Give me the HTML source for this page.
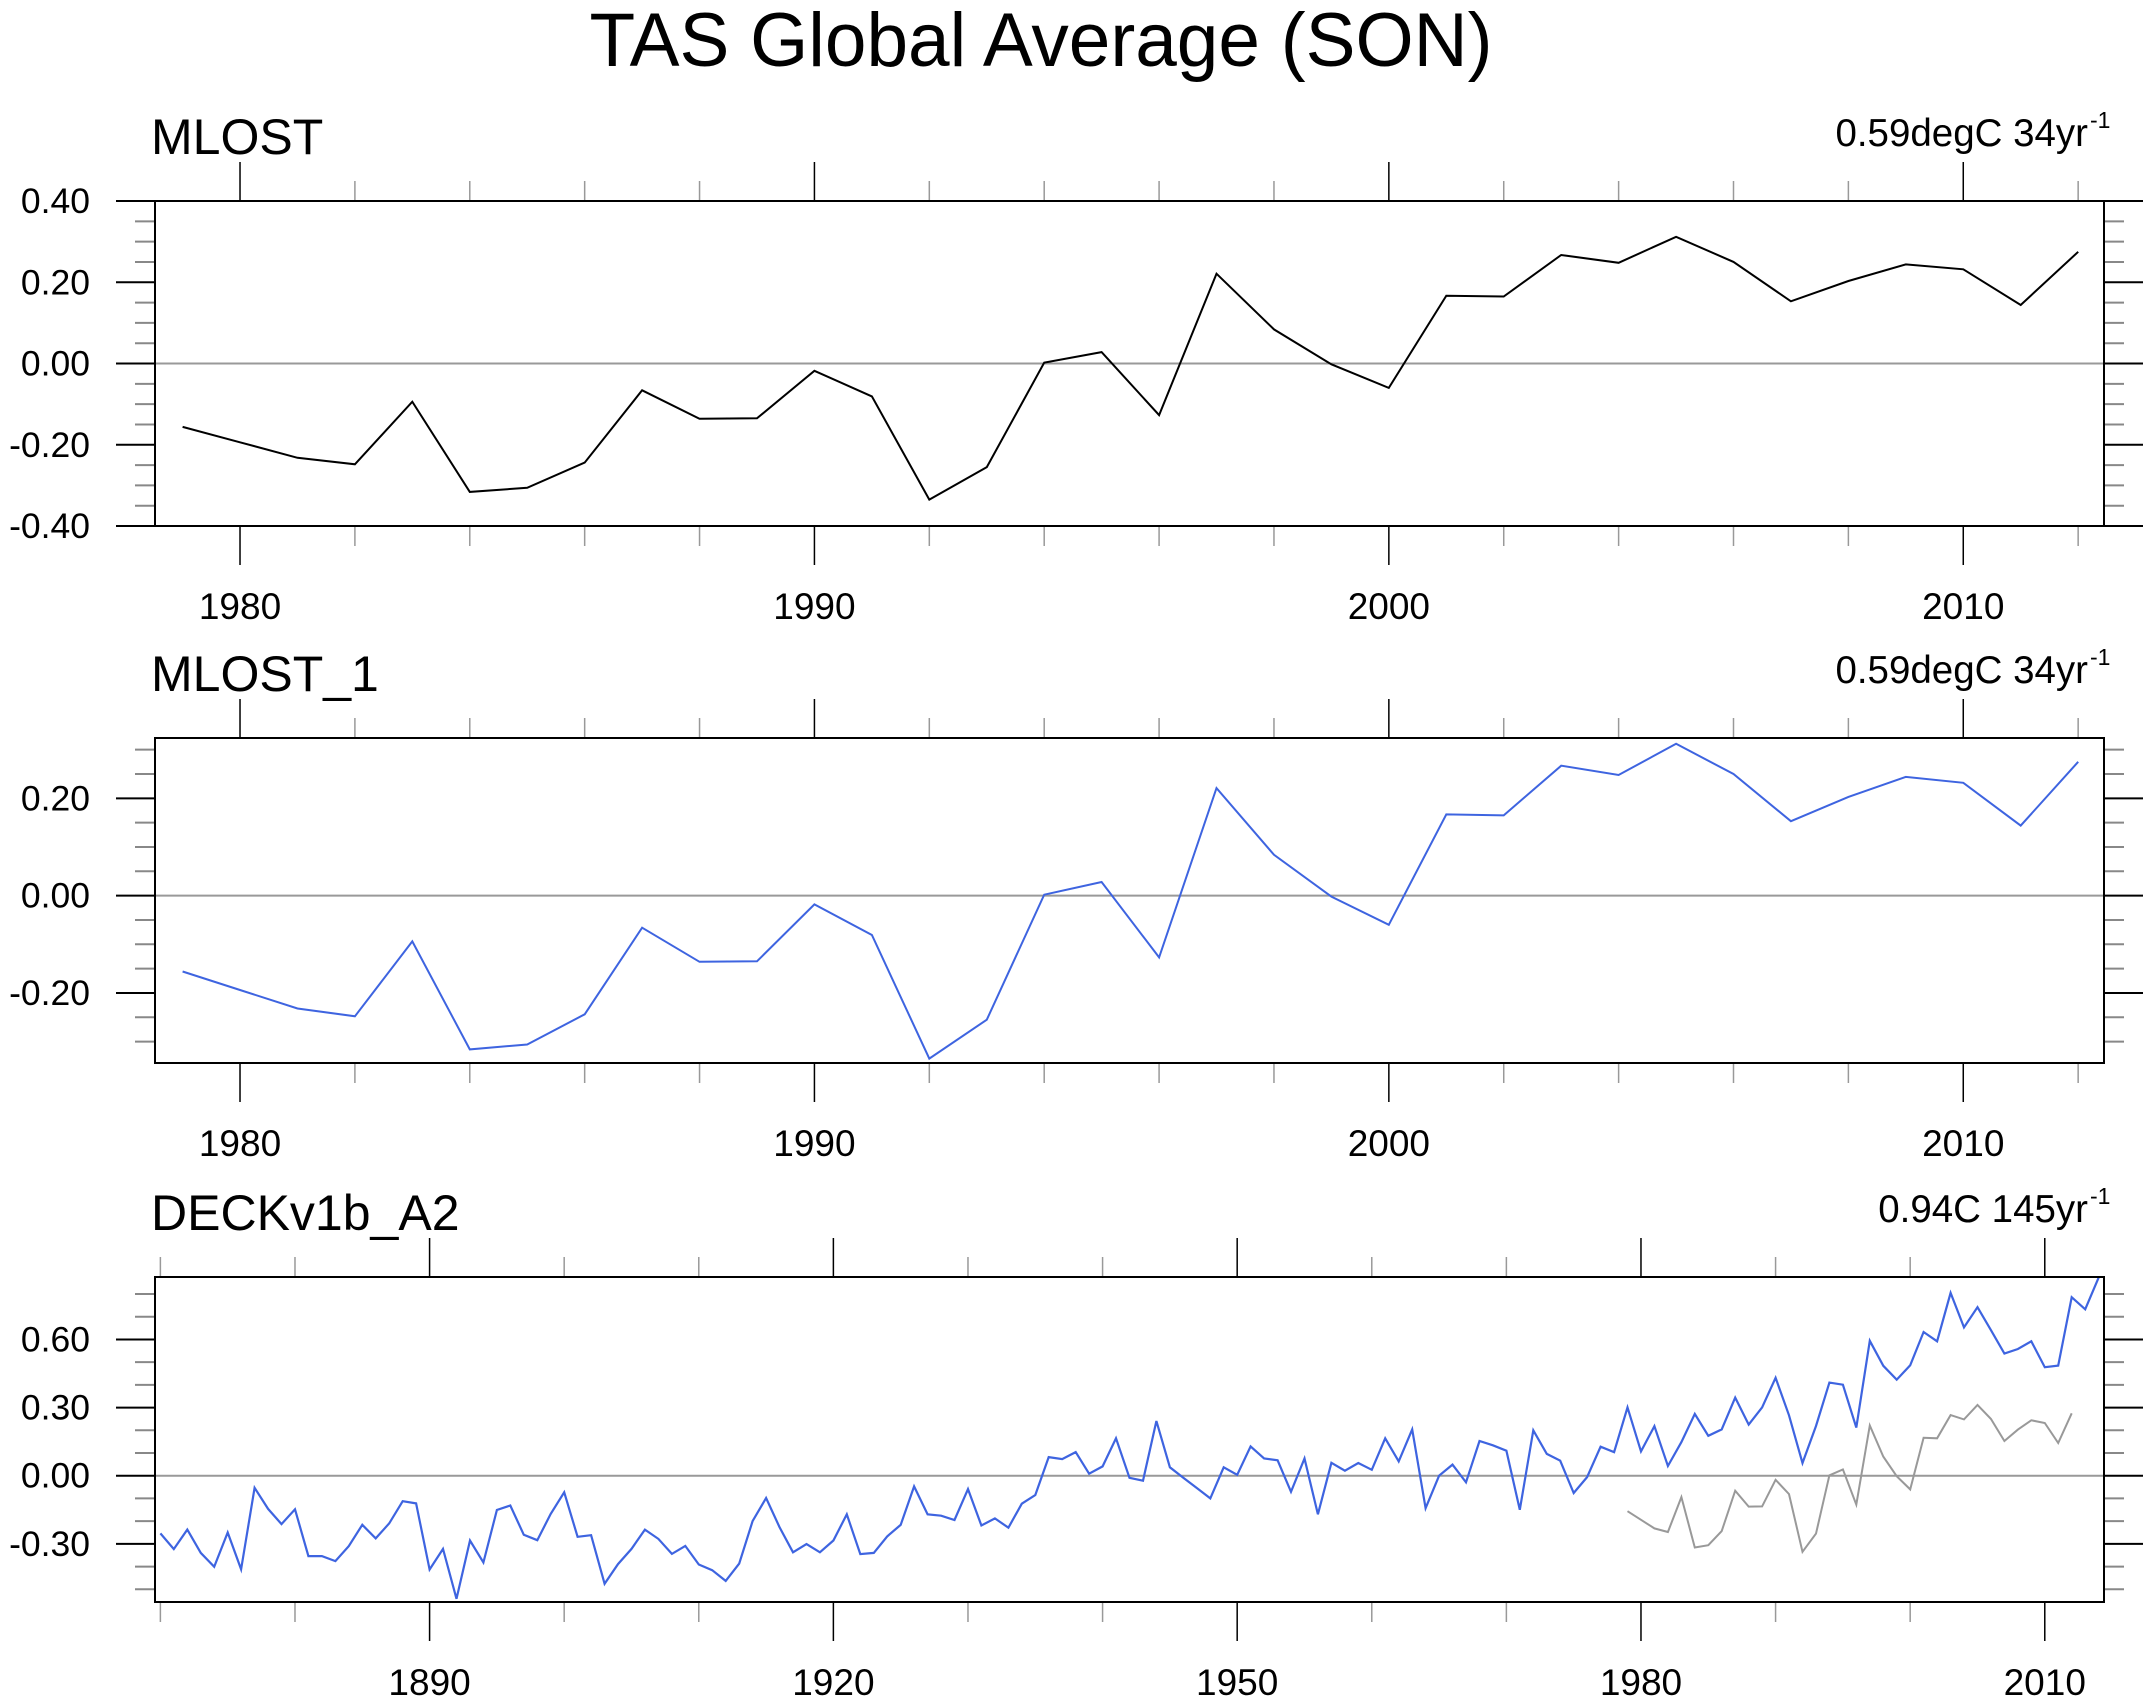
<!DOCTYPE html>
<html><head><meta charset="utf-8"><style>
html,body{margin:0;padding:0;background:#fff;}
svg{display:block;font-family:"Liberation Sans",Arial,sans-serif;}
</style></head><body>
<svg id="chart" width="2152" height="1703" viewBox="0 0 2152 1703" xmlns="http://www.w3.org/2000/svg">
<text x="1041" y="66" font-size="76" text-anchor="middle" textLength="903" lengthAdjust="spacingAndGlyphs">TAS Global Average (SON)</text>
</svg>
<script>
const mlostYears = [1979,1980,1981,1982,1983,1984,1985,1986,1987,1988,1989,1990,1991,1992,1993,1994,1995,1996,1997,1998,1999,2000,2001,2002,2003,2004,2005,2006,2007,2008,2009,2010,2011,2012];
const mlostValues = [-0.156,-0.194,-0.232,-0.248,-0.094,-0.316,-0.306,-0.244,-0.066,-0.136,-0.135,-0.018,-0.081,-0.335,-0.255,0.002,0.028,-0.127,0.221,0.084,-0.002,-0.060,0.167,0.165,0.267,0.248,0.312,0.250,0.153,0.203,0.244,0.232,0.144,0.275];
const deckStartYear = 1870;
const deckValues = [-0.254,-0.323,-0.237,-0.340,-0.401,-0.250,-0.412,-0.053,-0.146,-0.213,
-0.148,-0.354,-0.354,-0.376,-0.310,-0.216,-0.276,-0.210,-0.112,-0.122,
-0.413,-0.322,-0.542,-0.285,-0.382,-0.151,-0.131,-0.260,-0.284,-0.168,
-0.073,-0.269,-0.262,-0.476,-0.389,-0.322,-0.237,-0.278,-0.344,-0.309,
-0.391,-0.416,-0.463,-0.387,-0.200,-0.098,-0.226,-0.337,-0.301,-0.337,
-0.285,-0.170,-0.345,-0.340,-0.267,-0.216,-0.047,-0.170,-0.176,-0.195,
-0.059,-0.219,-0.188,-0.229,-0.123,-0.085,0.082,0.073,0.104,0.009,
0.041,0.165,-0.009,-0.022,0.241,0.037,-0.009,-0.054,-0.100,0.037,
0.004,0.129,0.076,0.068,-0.071,0.076,-0.170,0.057,0.022,0.056,
0.026,0.165,0.063,0.204,-0.143,0.000,0.049,-0.029,0.153,0.134,
0.110,-0.150,0.200,0.096,0.066,-0.076,-0.006,0.128,0.104,0.301,
0.107,0.218,0.043,0.148,0.272,0.176,0.204,0.344,0.225,0.301,
0.431,0.266,0.056,0.219,0.410,0.401,0.212,0.594,0.484,0.423,
0.486,0.633,0.592,0.805,0.653,0.742,0.641,0.538,0.558,0.592,
0.478,0.485,0.786,0.733,0.872];
const panel1YTicks = [-0.4,-0.2,0,0.2,0.4];
const panel1YLabels = ["-0.40","-0.20","0.00","0.20","0.40"];
const panel2YTicks = [-0.2,0,0.2];
const panel2YLabels = ["-0.20","0.00","0.20"];
const panel3YTicks = [-0.3,0,0.3,0.6];
const panel3YLabels = ["-0.30","0.00","0.30","0.60"];
const shortXTicks = [1980,1990,2000,2010];
const longXTicks = [1890,1920,1950,1980,2010];

const NS="http://www.w3.org/2000/svg";
const svg=document.getElementById('chart');
function mk(tag,attrs,parent){const e=document.createElementNS(NS,tag);for(const k in attrs)e.setAttribute(k,attrs[k]);(parent||svg).appendChild(e);return e;}

function panel(o){
  const g=mk('g',{});
  
  
  const L=155,R=2104,T=o.top,B=o.top+325;
  const sx=v=>L+(v-o.x0)/(o.x1-o.x0)*(R-L);
  const sy=v=>B-(v-o.y0)/(o.y1-o.y0)*(B-T);
  const eps=1e-6;
  for(let v=Math.ceil(o.y0/o.yminor-eps)*o.yminor; v<=o.y1+eps; v+=o.yminor){
    const y=sy(v);
    const major=o.yt.some(t=>Math.abs(t-v)<1e-4);
    const len=major?39:20;
    const col=major?'#000':'#888';
    const t1=mk('line',{x1:L-len,x2:L,y1:y,y2:y,stroke:col,'stroke-width':2},g);
    
    
    const t2=mk('line',{x1:R,x2:R+len,y1:y,y2:y,stroke:col,'stroke-width':2},g);
    
    
  }
  o.yt.forEach((v,i)=>{
    const t=mk('text',{x:90,y:sy(v)+12,'font-size':35.5,'text-anchor':'end'},g);
    t.textContent=o.yl[i];
    
    
  });
  for(let yr=Math.ceil(o.x0/o.xminor)*o.xminor; yr<=o.x1; yr+=o.xminor){
    const x=sx(yr);
    const major=o.xt.includes(yr);
    const len=major?39:20;
    const col=major?'#000':'#999';
    const a=mk('line',{x1:x,x2:x,y1:T-len,y2:T,stroke:col,'stroke-width':1.5},g);
    
    
    const b=mk('line',{x1:x,x2:x,y1:B,y2:B+len,stroke:col,'stroke-width':1.5},g);
    
    
  }
  o.xt.forEach(yr=>{
    const t=mk('text',{x:sx(yr),y:B+93,'font-size':37,'text-anchor':'middle'},g);
    t.textContent=String(yr);
    
    
  });
  const z=mk('line',{x1:L,x2:R,y1:sy(0),y2:sy(0),stroke:'#999','stroke-width':2},g);
  
  
  o.series.forEach(s=>{
    const pts=s.vals.map((v,i)=>sx(s.years[i]).toFixed(1)+','+sy(v).toFixed(1)).join(' ');
    const p=mk('polyline',{points:pts,fill:'none',stroke:s.color,'stroke-width':s.w,'stroke-linejoin':'miter'},g);
    
    
  });
  const r=mk('rect',{x:L,y:T,width:R-L,height:B-T,fill:'none',stroke:'#000','stroke-width':2},g);
  
  
  const t=mk('text',{x:151,y:o.top-47,'font-size':50},g);
  t.textContent=o.title;
  
  
  const a=mk('text',{x:2088,y:o.top-55,'font-size':38.5,'text-anchor':'end'},g);
  a.textContent=o.right;
  
  
  const sup=mk('text',{x:2090,y:o.top-73,'font-size':23},g);
  sup.textContent='-1';
  
  
}
const deckYears=deckValues.map((v,i)=>deckStartYear+i);
panel({name:'panel-mlost',top:201,x0:1978.52,x1:2012.45,y0:-0.4,y1:0.4,yminor:0.05,yt:panel1YTicks,yl:panel1YLabels,xt:shortXTicks,xminor:2,title:'MLOST',right:'0.59degC 34yr',
  series:[{name:'mlost-line',years:mlostYears,vals:mlostValues,color:'#000',w:2}]});
panel({name:'panel-mlost-1',top:738,x0:1978.52,x1:2012.45,y0:-0.344,y1:0.324,yminor:0.05,yt:panel2YTicks,yl:panel2YLabels,xt:shortXTicks,xminor:2,title:'MLOST_1',right:'0.59degC 34yr',
  series:[{name:'mlost-1-line',years:mlostYears,vals:mlostValues,color:'#3e64e0',w:2}]});
panel({name:'panel-deck',top:1277,x0:1869.6,x1:2014.4,y0:-0.556,y1:0.875,yminor:0.1,yt:panel3YTicks,yl:panel3YLabels,xt:longXTicks,xminor:10,title:'DECKv1b_A2',right:'0.94C 145yr',
  series:[{name:'deck-line',years:deckYears,vals:deckValues,color:'#3e64e0',w:2.2},{name:'mlost-overlay-line',years:mlostYears,vals:mlostValues,color:'#999',w:2}]});
</script>
</body></html>
